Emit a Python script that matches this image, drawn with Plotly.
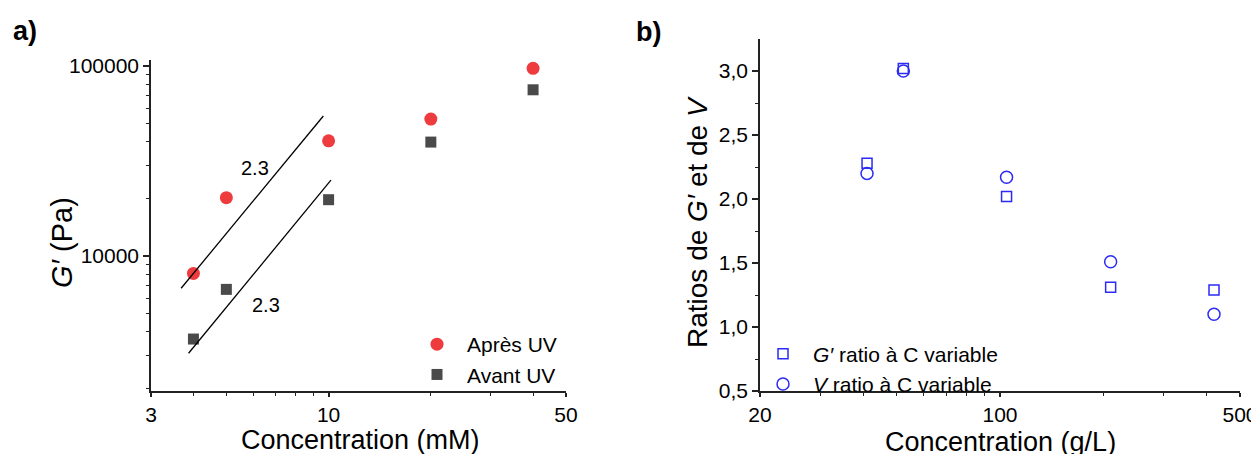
import numpy as np
import plotly.graph_objects as go

# ---- panel a: G' vs concentration (log-log) ----
conc_mM = [4, 5, 10, 20, 40]
g_apres = [8100, 20300, 40400, 52600, 97300]
g_avant = [3660, 6680, 19800, 39800, 75000]

# guide lines with slope 2.3 (end points)
fit_up_x = [3.68, 9.65]
fit_up_y = [6770, 54600]
fit_lo_x = [3.87, 10.16]
fit_lo_y = [3080, 25100]
slope_lbl_x = [6.06, 6.54]
slope_lbl_y = [29200, 5520]
slope_lbl = ["2.3", "2.3"]

xa_ticks = [3, 10, 50]
xa_minor = [4, 5, 6, 7, 8, 9, 20, 30, 40]
ya_ticks = [10000, 100000]
ya_minor = [2000, 3000, 4000, 5000, 6000, 7000, 8000, 9000,
            20000, 30000, 40000, 50000, 60000, 70000, 80000, 90000]

# ---- panel b: ratios vs concentration ----
conc_gL = [41, 52.3, 104.5, 210, 420]
ratio_g = [2.28, 3.02, 2.02, 1.31, 1.29]
ratio_v = [2.20, 3.00, 2.17, 1.51, 1.10]

xb_ticks = [20, 100, 500]
xb_minor = [30, 40, 50, 60, 70, 80, 90, 200, 300, 400]
yb_ticks = [0.5, 1.0, 1.5, 2.0, 2.5, 3.0]
yb_text = ["0,5", "1,0", "1,5", "2,0", "2,5", "3,0"]
yb_minor = [0.75, 1.25, 1.75, 2.25, 2.75]

FONT = "Arial, Liberation Sans, sans-serif"
RED = "#ee3b3d"
GREY = "#4a4a4a"
BLUE = "#2b2bf5"
AX = "#222222"
OFF = 8  # page body margin
W, H = 1259, 454 - OFF


def px(x, y):
    # page pixel -> paper fraction
    return (x - OFF) / W, 1 - (y - OFF) / H


fig = go.Figure()

fig.add_trace(go.Scatter(x=conc_mM, y=g_apres, mode="markers", name="Après UV",
                         marker=dict(symbol="circle", size=13, color=RED),
                         xaxis="x", yaxis="y", legend="legend"))
fig.add_trace(go.Scatter(x=conc_mM, y=g_avant, mode="markers", name="Avant UV",
                         marker=dict(symbol="square", size=11, color=GREY),
                         xaxis="x", yaxis="y", legend="legend"))
for fx, fy in [(fit_up_x, fit_up_y), (fit_lo_x, fit_lo_y)]:
    fig.add_trace(go.Scatter(x=fx, y=fy, mode="lines", showlegend=False,
                             line=dict(color="black", width=1.3),
                             xaxis="x", yaxis="y", hoverinfo="skip"))

fig.add_trace(go.Scatter(x=conc_gL, y=ratio_g, mode="markers",
                         name="<i>G′</i> ratio à C variable",
                         marker=dict(symbol="square-open", size=10, color=BLUE,
                                     line=dict(width=1.5)),
                         xaxis="x2", yaxis="y2", legend="legend2"))
fig.add_trace(go.Scatter(x=conc_gL, y=ratio_v, mode="markers",
                         name="<i>V</i> ratio à C variable",
                         marker=dict(symbol="circle-open", size=12, color=BLUE,
                                     line=dict(width=1.5)),
                         xaxis="x2", yaxis="y2", legend="legend2"))

for t, x, y in zip(slope_lbl, slope_lbl_x, slope_lbl_y):
    fig.add_annotation(x=np.log10(x), y=np.log10(y), xref="x", yref="y", text=t,
                       showarrow=False, font=dict(size=20, color="black"))

axis_common = dict(showline=True, linecolor=AX, linewidth=1.5, ticks="outside",
                   tickcolor=AX, tickwidth=1.5, ticklen=6, showgrid=False,
                   zeroline=False, tickfont=dict(size=21, color="black"),
                   automargin=False, ticklabeloverflow="allow")
minor_common = dict(ticks="outside", ticklen=3, tickcolor=AX, tickwidth=1.2,
                    showgrid=False)

xa0, yb0 = px(151, 391)
xa1, ya1 = px(566, 60)
xb0, yb1 = px(760, 39)
xb1, _ = px(1240, 0)

fig.update_layout(
    width=W, height=H, margin=dict(l=0, r=0, t=0, b=0, autoexpand=False),
    paper_bgcolor="white", plot_bgcolor="white",
    font=dict(family=FONT, color="black"),
    xaxis=dict(axis_common, type="log", domain=[xa0, xa1], anchor="y", ticklen=4,
               range=[np.log10(3), np.log10(50)], tickvals=xa_ticks,
               ticktext=[str(v) for v in xa_ticks],
               minor=dict(minor_common, tickvals=xa_minor)),
    yaxis=dict(axis_common, type="log", domain=[yb0, ya1], anchor="x",
               range=[np.log10(1950), np.log10(107600)], tickvals=ya_ticks,
               ticktext=[str(v) for v in ya_ticks],
               minor=dict(minor_common, tickvals=ya_minor)),
    xaxis2=dict(axis_common, type="log", domain=[xb0, xb1], anchor="y2", ticklen=4,
                range=[np.log10(20), np.log10(500)], tickvals=xb_ticks,
                ticktext=[str(v) for v in xb_ticks],
                minor=dict(minor_common, tickvals=xb_minor)),
    yaxis2=dict(axis_common, domain=[yb0, yb1], anchor="x2",
                range=[0.5, 3.25], tickvals=yb_ticks, ticktext=yb_text,
                minor=dict(minor_common, tickvals=yb_minor)),
    legend=dict(x=px(407, 0)[0], y=px(0, 359.5)[1], xanchor="left", yanchor="middle",
                bgcolor="rgba(0,0,0,0)", font=dict(size=21), itemwidth=50,
                tracegroupgap=0),
    legend2=dict(x=px(753, 0)[0], y=px(0, 369)[1], xanchor="left", yanchor="middle",
                 bgcolor="rgba(0,0,0,0)", font=dict(size=21), itemwidth=50,
                 tracegroupgap=0),
    showlegend=True,
)

# panel labels and axis titles (page pixel positions)
texts = [
    ("<b>a)</b>", 25, 31, 0, 27),
    ("<b>b)</b>", 648, 32, 0, 27),
    ("<i>G′</i> (Pa)", 62, 243, -90, 29),
    ("Concentration (mM)", 360, 440, 0, 27),
    ("Ratios de <i>G′</i> et de <i>V</i>", 697, 222, -90, 28),
    ("Concentration (g/L)", 1000, 442, 0, 27),
]
for t, x, y, ang, sz in texts:
    xx, yy = px(x, y)
    fig.add_annotation(x=xx, y=yy, xref="paper", yref="paper", text=t,
                       showarrow=False, textangle=ang, font=dict(size=sz),
                       xanchor="center", yanchor="middle")

fig.write_html("out.html")
